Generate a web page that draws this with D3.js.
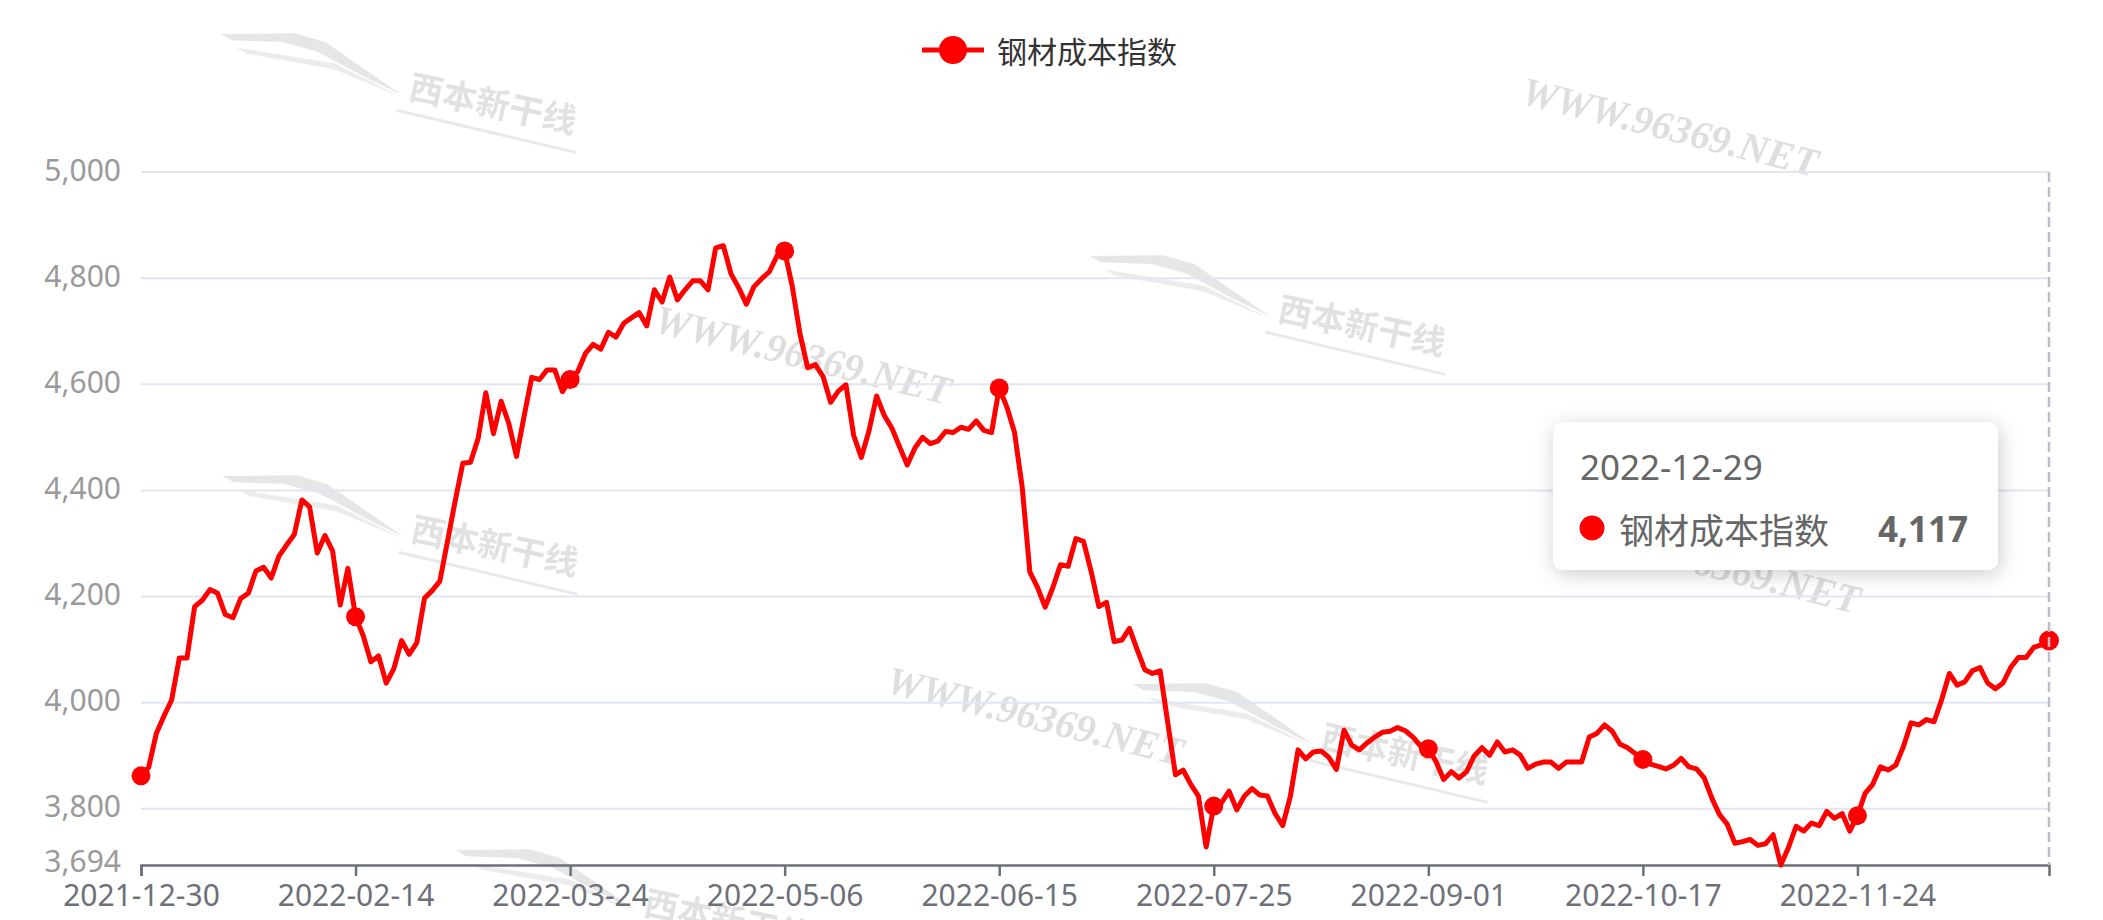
<!DOCTYPE html>
<html>
<head>
<meta charset="utf-8">
<script src="https://cdn.jsdelivr.net/npm/d3@7/dist/d3.min.js"></script>
<style>
  html, body { margin: 0; padding: 0; background: #fff; }
  svg { display: block; font-family: "Noto Sans", "Noto Sans CJK SC", sans-serif; }
</style>
</head>
<body>
<svg id="chart" width="2103" height="920"></svg>
<script>
// ---------------- data ----------------
const seriesName = "钢材成本指数";
const dates = [
"2021-12-30","2021-12-31",
"2022-01-04","2022-01-05","2022-01-06","2022-01-07","2022-01-10","2022-01-11","2022-01-12","2022-01-13","2022-01-14","2022-01-17","2022-01-18","2022-01-19","2022-01-20","2022-01-21","2022-01-24","2022-01-25","2022-01-26","2022-01-27","2022-01-28","2022-01-29","2022-01-30",
"2022-02-07","2022-02-08","2022-02-09","2022-02-10","2022-02-11","2022-02-14","2022-02-15","2022-02-16","2022-02-17","2022-02-18","2022-02-21","2022-02-22","2022-02-23","2022-02-24","2022-02-25","2022-02-28",
"2022-03-01","2022-03-02","2022-03-03","2022-03-04","2022-03-07","2022-03-08","2022-03-09","2022-03-10","2022-03-11","2022-03-14","2022-03-15","2022-03-16","2022-03-17","2022-03-18","2022-03-21","2022-03-22","2022-03-23","2022-03-24","2022-03-25","2022-03-28","2022-03-29","2022-03-30","2022-03-31",
"2022-04-01","2022-04-02","2022-04-06","2022-04-07","2022-04-08","2022-04-11","2022-04-12","2022-04-13","2022-04-14","2022-04-15","2022-04-18","2022-04-19","2022-04-20","2022-04-21","2022-04-22","2022-04-24","2022-04-25","2022-04-26","2022-04-27","2022-04-28","2022-04-29",
"2022-05-05","2022-05-06","2022-05-07","2022-05-09","2022-05-10","2022-05-11","2022-05-12","2022-05-13","2022-05-16","2022-05-17","2022-05-18","2022-05-19","2022-05-20","2022-05-23","2022-05-24","2022-05-25","2022-05-26","2022-05-27","2022-05-30","2022-05-31",
"2022-06-01","2022-06-02","2022-06-06","2022-06-07","2022-06-08","2022-06-09","2022-06-10","2022-06-13","2022-06-14","2022-06-15","2022-06-16","2022-06-17","2022-06-20","2022-06-21","2022-06-22","2022-06-23","2022-06-24","2022-06-27","2022-06-28","2022-06-29","2022-06-30",
"2022-07-01","2022-07-04","2022-07-05","2022-07-06","2022-07-07","2022-07-08","2022-07-11","2022-07-12","2022-07-13","2022-07-14","2022-07-15","2022-07-18","2022-07-19","2022-07-20","2022-07-21","2022-07-22","2022-07-25","2022-07-26","2022-07-27","2022-07-28","2022-07-29",
"2022-08-01","2022-08-02","2022-08-03","2022-08-04","2022-08-05","2022-08-08","2022-08-09","2022-08-10","2022-08-11","2022-08-12","2022-08-15","2022-08-16","2022-08-17","2022-08-18","2022-08-19","2022-08-22","2022-08-23","2022-08-24","2022-08-25","2022-08-26","2022-08-29","2022-08-30","2022-08-31",
"2022-09-01","2022-09-02","2022-09-05","2022-09-06","2022-09-07","2022-09-08","2022-09-09","2022-09-13","2022-09-14","2022-09-15","2022-09-16","2022-09-19","2022-09-20","2022-09-21","2022-09-22","2022-09-23","2022-09-26","2022-09-27","2022-09-28","2022-09-29","2022-09-30",
"2022-10-08","2022-10-09","2022-10-10","2022-10-11","2022-10-12","2022-10-13","2022-10-14","2022-10-17","2022-10-18","2022-10-19","2022-10-20","2022-10-21","2022-10-24","2022-10-25","2022-10-26","2022-10-27","2022-10-28","2022-10-31",
"2022-11-01","2022-11-02","2022-11-03","2022-11-04","2022-11-07","2022-11-08","2022-11-09","2022-11-10","2022-11-11","2022-11-14","2022-11-15","2022-11-16","2022-11-17","2022-11-18","2022-11-21","2022-11-22","2022-11-23","2022-11-24","2022-11-25","2022-11-28","2022-11-29","2022-11-30",
"2022-12-01","2022-12-02","2022-12-05","2022-12-06","2022-12-07","2022-12-08","2022-12-09","2022-12-12","2022-12-13","2022-12-14","2022-12-15","2022-12-16","2022-12-19","2022-12-20","2022-12-21","2022-12-22","2022-12-23","2022-12-26","2022-12-27","2022-12-28","2022-12-29"
];
const values = [
3862,3878,3942,3975,4005,4084,4084,4181,4193,4213,
4206,4166,4160,4196,4206,4248,4255,4235,4276,4297,
4317,4382,4369,4282,4315,4286,4184,4253,4162,4126,
4077,4088,4037,4064,4117,4091,4113,4197,4211,4229,
4304,4380,4451,4453,4498,4584,4507,4568,4526,4464,
4540,4613,4609,4627,4627,4586,4609,4624,4658,4675,
4666,4698,4689,4715,4725,4735,4710,4778,4755,4802,
4759,4778,4795,4795,4778,4857,4861,4808,4782,4751,
4784,4799,4812,4842,4851,4784,4695,4631,4637,4615,
4566,4587,4599,4504,4462,4512,4578,4541,4517,4482,
4448,4480,4500,4488,4493,4511,4509,4519,4515,4531,
4513,4509,4593,4557,4509,4406,4246,4217,4180,4217,
4260,4257,4309,4304,4247,4181,4189,4115,4118,4140,
4100,4062,4055,4060,3962,3864,3873,3846,3824,3728,
3805,3811,3833,3798,3824,3838,3826,3824,3791,3768,
3824,3911,3894,3907,3909,3897,3874,3948,3920,3911,
3924,3935,3944,3946,3953,3947,3935,3918,3913,3889,
3855,3870,3858,3870,3900,3915,3901,3926,3907,3911,
3901,3876,3884,3888,3888,3876,3888,3888,3888,3935,
3942,3958,3946,3922,3915,3904,3893,3884,3880,3875,
3882,3895,3879,3875,3858,3820,3789,3771,3735,3738,
3742,3731,3734,3751,3694,3727,3767,3758,3773,3768,
3795,3782,3791,3758,3787,3829,3846,3879,3873,3882,
3917,3962,3958,3968,3964,4006,4055,4033,4039,4060,
4066,4037,4026,4037,4066,4085,4085,4104,4109,4117
];
const tickLabels = ["2021-12-30","2022-02-14","2022-03-24","2022-05-06","2022-06-15","2022-07-25","2022-09-01","2022-10-17","2022-11-24"];
const yTicks = [3694, 3800, 4000, 4200, 4400, 4600, 4800, 5000];
const yDomain = [3694, 5000];
const hoverDate = "2022-12-29";
const watermarkText = "WWW.96369.NET";
const logoText = "西本新干线";

// ---------------- layout ----------------
const W = 2103, H = 920;
const plotL = 141, plotR = 2049, plotT = 172, plotB = 865;
const RED = "#ff0000";

const svg = d3.select("#chart");
svg.append("rect").attr("width", W).attr("height", H).attr("fill", "#fff");

const x = d3.scalePoint().domain(dates).range([plotL, plotR]).padding(0);
const y = d3.scaleLinear().domain(yDomain).range([plotB, plotT]);

// ---------------- watermarks ----------------
const wm = svg.append("g").attr("class", "watermarks");
const logoPos = [[221, 22], [1090, 244], [223, 464], [1133, 672], [456, 838]];
logoPos.forEach(([lx, ly]) => {
  const g = wm.append("g").attr("transform", `translate(${lx},${ly + 10}) rotate(12)`).attr("opacity", 0.45);
  g.append("path")
    .attr("d", "M0,2 L72,-14 L104,-12 L190,24 L150,14 L98,-1 L62,-3 L12,6 Z")
    .attr("fill", "#c9c9c9");
  g.append("path")
    .attr("d", "M18,12 L118,7 L190,26 L118,13 L30,16 Z")
    .attr("fill", "#d6d6d6");
  g.append("text")
    .attr("x", 196).attr("y", 26)
    .attr("font-size", 34).attr("font-weight", "bold")
    .attr("font-family", "'Noto Sans CJK SC', sans-serif")
    .attr("fill", "#bdbdbd")
    .text(logoText);
  g.append("line")
    .attr("x1", 188).attr("y1", 40).attr("x2", 372).attr("y2", 44)
    .attr("stroke", "#cfcfcf").attr("stroke-width", 3);
});
const wmTextPos = [[1670, 127], [803, 355], [1035, 716], [1712, 564]];
wmTextPos.forEach(([cx, cy]) => {
  wm.append("text")
    .attr("transform", `translate(${cx},${cy}) rotate(14)`)
    .attr("text-anchor", "middle").attr("dominant-baseline", "central")
    .attr("font-family", "'Liberation Serif', serif")
    .attr("font-style", "italic").attr("font-weight", "bold")
    .attr("font-size", 40)
    .attr("fill", "#c4c4c4").attr("opacity", 0.55)
    .text(watermarkText);
});

// ---------------- grid ----------------
const gridTicks = yTicks.filter(v => v !== yDomain[0]);
svg.append("g").selectAll("line").data(gridTicks).join("line")
  .attr("x1", plotL).attr("x2", plotR)
  .attr("y1", d => y(d)).attr("y2", d => y(d))
  .attr("stroke", "#E0E6F1").attr("stroke-width", 2);

// y labels
svg.append("g").selectAll("text").data(yTicks).join("text")
  .attr("x", plotL - 20).attr("y", d => y(d) - (d === yDomain[0] ? 5 : 3))
  .attr("text-anchor", "end").attr("dominant-baseline", "central")
  .attr("font-size", 30).attr("fill", "#9a9a9a")
  .text(d => d3.format(",")(d));

// x axis
const xAxis = d3.axisBottom(x).tickValues(tickLabels).tickSize(11).tickPadding(9);
const gx = svg.append("g").attr("transform", `translate(0,${plotB})`).call(xAxis);
gx.select(".domain").attr("stroke", "#6E7079").attr("stroke-width", 2.5);
gx.selectAll(".tick line").attr("stroke", "#6E7079").attr("stroke-width", 2.5);
gx.selectAll(".tick text").attr("font-size", 30).attr("fill", "#6E7079")
  .attr("font-family", "'Noto Sans', sans-serif");

// ---------------- line ----------------
const pts = dates.map((d, i) => ({ d, v: values[i] }));
const line = d3.line().x(p => x(p.d)).y(p => y(p.v));
svg.append("path").datum(pts)
  .attr("d", line)
  .attr("fill", "none").attr("stroke", RED)
  .attr("stroke-width", 5).attr("stroke-linejoin", "round").attr("stroke-linecap", "round");

const dotPts = pts.filter(p => tickLabels.includes(p.d) || p.d === hoverDate);
svg.append("g").selectAll("circle").data(dotPts).join("circle")
  .attr("cx", p => x(p.d)).attr("cy", p => y(p.v))
  .attr("r", p => p.d === hoverDate ? 10 : 9.5)
  .attr("fill", RED);

// axis pointer
svg.append("line")
  .attr("x1", x(hoverDate)).attr("x2", x(hoverDate))
  .attr("y1", plotT).attr("y2", plotB)
  .attr("stroke", "#B9BEC9").attr("stroke-width", 2.5)
  .attr("stroke-dasharray", "10,5");

// ---------------- legend ----------------
const lg = svg.append("g");
lg.append("line").attr("x1", 922).attr("x2", 984).attr("y1", 50).attr("y2", 50)
  .attr("stroke", RED).attr("stroke-width", 5);
lg.append("circle").attr("cx", 953).attr("cy", 50).attr("r", 14).attr("fill", RED);
lg.append("text").attr("x", 997).attr("y", 50)
  .attr("dominant-baseline", "central")
  .attr("font-family", "'Noto Sans CJK SC', sans-serif")
  .attr("font-size", 30).attr("fill", "#333")
  .text(seriesName);

// ---------------- tooltip ----------------
const defs = svg.append("defs");
const f = defs.append("filter").attr("id", "shadow").attr("x", "-20%").attr("y", "-30%").attr("width", "140%").attr("height", "160%");
f.append("feDropShadow").attr("dx", 2).attr("dy", 4).attr("stdDeviation", 10)
  .attr("flood-color", "#000").attr("flood-opacity", 0.2);

const hv = values[dates.indexOf(hoverDate)];
const tipW = 445, tipH = 148;
const tipX = x(hoverDate) - 51 - tipW, tipY = 422;
const tip = svg.append("g").attr("transform", `translate(${tipX},${tipY})`);
tip.append("rect").attr("width", tipW).attr("height", tipH).attr("rx", 10)
  .attr("fill", "#fff").attr("filter", "url(#shadow)");
tip.append("text").attr("x", 27).attr("y", 58)
  .attr("font-size", 35).attr("fill", "#666")
  .attr("font-family", "'Noto Sans', sans-serif")
  .text(hoverDate);
tip.append("circle").attr("cx", 39).attr("cy", 106).attr("r", 12.5).attr("fill", RED);
tip.append("text").attr("x", 66).attr("y", 106)
  .attr("dominant-baseline", "central")
  .attr("font-family", "'Noto Sans CJK SC', sans-serif")
  .attr("font-size", 35).attr("fill", "#666")
  .text(seriesName);
tip.append("text").attr("x", tipW - 30).attr("y", 106)
  .attr("dominant-baseline", "central").attr("text-anchor", "end")
  .attr("font-family", "'Noto Sans', sans-serif")
  .attr("font-size", 35).attr("font-weight", "bold").attr("fill", "#666")
  .text(d3.format(",")(hv));
</script>
</body>
</html>
